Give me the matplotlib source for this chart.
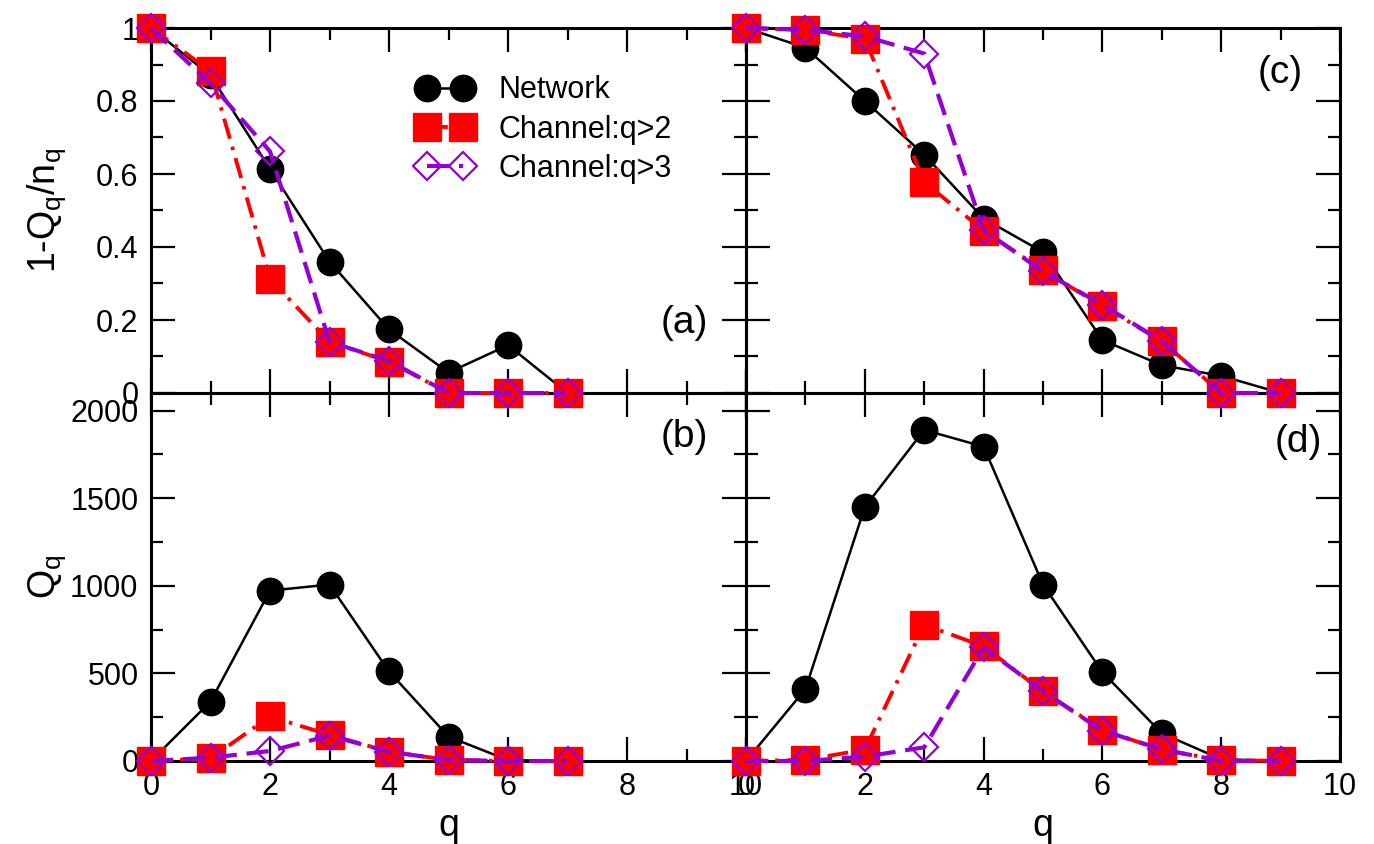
import matplotlib
matplotlib.use("Agg")
import matplotlib.pyplot as plt
from matplotlib.ticker import MultipleLocator

plt.rcParams['font.family'] = ['Liberation Sans', 'DejaVu Sans']
plt.rcParams['mathtext.default'] = 'regular'
plt.rcParams['lines.scale_dashes'] = False

# ---------------- data ----------------
q_left = [0, 1, 2, 3, 4, 5, 6, 7]
q_right = [0, 1, 2, 3, 4, 5, 6, 7, 8, 9]

# panel (a): 1 - Q_q/n_q
a_network = [1.0, 0.87, 0.614, 0.36, 0.174, 0.056, 0.131, 0.0]
a_ch2 = [1.0, 0.882, 0.313, 0.14, 0.086, 0.0, 0.0, 0.0]
a_ch3 = [1.0, 0.848, 0.662, 0.14, 0.088, 0.0, 0.0, 0.0]

# panel (b): Q_q
b_network = [0, 339, 972, 1007, 511, 139, 5, 0]
b_ch2 = [0, 15, 254, 149, 53, 6, 0, 0]
b_ch3 = [0, 19, 57, 145, 53, 5, 0, 0]

# panel (c): 1 - Q_q/n_q
c_network = [1.0, 0.946, 0.80, 0.653, 0.478, 0.386, 0.145, 0.076, 0.047, 0.0]
c_ch2 = [1.0, 0.995, 0.97, 0.578, 0.445, 0.336, 0.238, 0.142, 0.0, 0.0]
c_ch3 = [1.0, 0.995, 0.977, 0.93, 0.446, 0.333, 0.242, 0.142, 0.0, 0.0]

# panel (d): Q_q
d_network = [0, 410, 1449, 1889, 1794, 1007, 507, 158, 10, 0]
d_ch2 = [0, 6, 65, 778, 654, 397, 177, 63, 6, 0]
d_ch3 = [0, 0, 25, 78, 648, 397, 173, 67, 0, 0]

labels = ["Network", "Channel:q>2", "Channel:q>3"]
panel_tags = ["(a)", "(b)", "(c)", "(d)"]

# ---------------- style ----------------
RED = "#ff0000"
VIOLET = "#9400d3"
TICK_FS = 22
LABEL_FS = 27
TAG_FS = 28

fig = plt.figure(figsize=(13.74, 8.44), dpi=100)
W, H = 1374.0, 844.0
def rect(x0, x1, y0, y1):
    return [x0 / W, 1 - y1 / H, (x1 - x0) / W, (y1 - y0) / H]

ax_b = fig.add_axes(rect(151, 746, 393, 761), zorder=1)
ax_d = fig.add_axes(rect(746, 1340, 393, 761), zorder=1)
ax_a = fig.add_axes(rect(151, 746, 28, 393), zorder=2)
ax_c = fig.add_axes(rect(746, 1340, 28, 393), zorder=3)


def draw(ax, q, net, ch2, ch3):
    l1, = ax.plot(q, net, color='black', lw=1.8, marker='o', ms=19,
                  mfc='black', mec='black', clip_on=False, zorder=3)
    l2, = ax.plot(q, ch2, color=RED, lw=2.8, marker='s', ms=20.5,
                  mfc=RED, mec=RED, clip_on=False, zorder=4)
    l2.set_dashes((15, 6, 2.5, 6))
    l3, = ax.plot(q, ch3, color=VIOLET, lw=3.0, marker='D', ms=14,
                  mfc='none', mec=VIOLET, mew=1.6, clip_on=False, zorder=5)
    l3.set_dashes((16, 7))
    return l1, l2, l3


handles = draw(ax_a, q_left, a_network, a_ch2, a_ch3)
draw(ax_b, q_left, b_network, b_ch2, b_ch3)
draw(ax_c, q_right, c_network, c_ch2, c_ch3)
draw(ax_d, q_right, d_network, d_ch2, d_ch3)

for ax in (ax_a, ax_b, ax_c, ax_d):
    ax.set_facecolor('none')
    ax.set_xlim(0, 10)
    ax.xaxis.set_major_locator(MultipleLocator(2))
    ax.xaxis.set_minor_locator(MultipleLocator(1))
    for s in ax.spines.values():
        s.set_linewidth(2.2)
    ax.tick_params(which='both', direction='in', top=True, right=True,
                   width=1.6, labelsize=TICK_FS)
    ax.tick_params(which='major', length=17)
    ax.tick_params(which='minor', length=8.5)
    ax.tick_params(axis='x', pad=8)
    ax.tick_params(axis='y', pad=9)

for ax in (ax_a, ax_c):
    ax.set_ylim(0, 1)
    ax.yaxis.set_major_locator(MultipleLocator(0.2))
    ax.yaxis.set_minor_locator(MultipleLocator(0.1))
    ax.tick_params(axis='x', labelbottom=False)
for ax in (ax_b, ax_d):
    ax.set_ylim(0, 2100)
    ax.yaxis.set_major_locator(MultipleLocator(500))
    ax.yaxis.set_minor_locator(MultipleLocator(250))
for ax in (ax_c, ax_d):
    ax.tick_params(axis='y', labelleft=False)

ax_a.set_yticks([0, 0.2, 0.4, 0.6, 0.8, 1.0])
ax_a.set_yticklabels(["0", "0.2", "0.4", "0.6", "0.8", "1"])

ax_a.set_ylabel("1-Q$_q$/n$_q$", fontsize=LABEL_FS)
ax_b.set_ylabel("Q$_q$", fontsize=LABEL_FS)
ax_a.yaxis.set_label_coords(-0.14, 0.5)
ax_b.yaxis.set_label_coords(-0.14, 0.5)
ax_b.set_xlabel("q", fontsize=LABEL_FS, labelpad=4)
ax_d.set_xlabel("q", fontsize=LABEL_FS, labelpad=4)

ax_a.text(0.936, 0.192, panel_tags[0], transform=ax_a.transAxes, ha='right', va='center', fontsize=TAG_FS)
ax_b.text(0.936, 0.88, panel_tags[1], transform=ax_b.transAxes, ha='right', va='center', fontsize=TAG_FS)
ax_c.text(0.938, 0.877, panel_tags[2], transform=ax_c.transAxes, ha='right', va='center', fontsize=TAG_FS)
ax_d.text(0.97, 0.867, panel_tags[3], transform=ax_d.transAxes, ha='right', va='center', fontsize=TAG_FS)

ax_a.legend(handles, labels, loc='upper left', bbox_to_anchor=(0.449, 0.87),
            frameon=False, numpoints=2, fontsize=TICK_FS, handlelength=1.78,
            handletextpad=0.85, labelspacing=0.3, borderaxespad=0, borderpad=0)

fig.savefig("out.png", dpi=100)
